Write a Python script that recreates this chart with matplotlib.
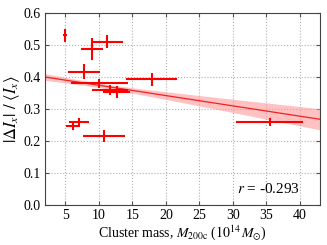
import numpy as np
import matplotlib
matplotlib.use("Agg")
import matplotlib.pyplot as plt

plt.rcParams['font.family'] = ['Liberation Serif', 'DejaVu Serif']
plt.rcParams['mathtext.fontset'] = 'stix'

# Data
mass = [4.95, 9.0, 11.25, 7.8, 10.1, 11.7, 12.7, 17.9, 7.1, 6.1, 10.8, 35.5]
mass_err = [0.35, 1.6, 2.3, 2.4, 4.2, 2.7, 2.0, 3.8, 1.5, 1.05, 3.1, 5.0]
ratio = [0.530, 0.488, 0.510, 0.417, 0.380, 0.359, 0.353, 0.393, 0.260, 0.247, 0.216, 0.259]
ratio_err = [0.020, 0.034, 0.020, 0.024, 0.014, 0.016, 0.020, 0.020, 0.013, 0.0125, 0.019, 0.0125]

fit_intercept = 0.4064
fit_slope = -0.00322
band_min = 0.007
band_center = 10.0
band_growth = 0.000977
r_text = "-0.293"

fig = plt.figure(figsize=(3.27, 2.45), dpi=100)
ax = fig.add_axes([0.138, 0.163, 0.841, 0.784])

xs = np.linspace(2, 43, 200)
yl = fit_intercept + fit_slope * xs
hw = np.sqrt(band_min**2 + (band_growth * (xs - band_center))**2)
ax.fill_between(xs, yl - hw, yl + hw, color='#ff9999', alpha=0.6, lw=0, zorder=1)
ax.plot(xs, yl, color='#ee2222', lw=0.9, zorder=2)

ax.errorbar(mass, ratio, xerr=mass_err, yerr=ratio_err, fmt='none',
            ecolor='red', elinewidth=1.5, capsize=0, zorder=3)

ax.set_xlim(2, 43)
ax.set_ylim(0, 0.6)
ax.set_xticks([5, 10, 15, 20, 25, 30, 35, 40])
ax.set_yticks([0.0, 0.1, 0.2, 0.3, 0.4, 0.5, 0.6])
ax.set_yticklabels(['0.0', '0.1', '0.2', '0.3', '0.4', '0.5', '0.6'])
ax.grid(True, ls=':', color='#b0b0b0', lw=0.8)
ax.set_axisbelow(True)
ax.tick_params(direction='in', top=True, right=True, labelsize=10, length=3, color='#555555', pad=3)
for s in ax.spines.values():
    s.set_color('#444444')

ax.set_xlabel(r'Cluster mass, $M_{200\mathrm{c}}$ ($10^{14}\,M_{\odot}$)', fontsize=10, labelpad=1)
ax.set_ylabel(r'$|\Delta I_x|\ /\ \langle I_x\rangle$', fontsize=12, labelpad=1)
ax.text(0.927, 0.083, r'$r$ = ' + r_text, transform=ax.transAxes, ha='right', va='center', fontsize=11)

fig.savefig('out.png', dpi=100)
